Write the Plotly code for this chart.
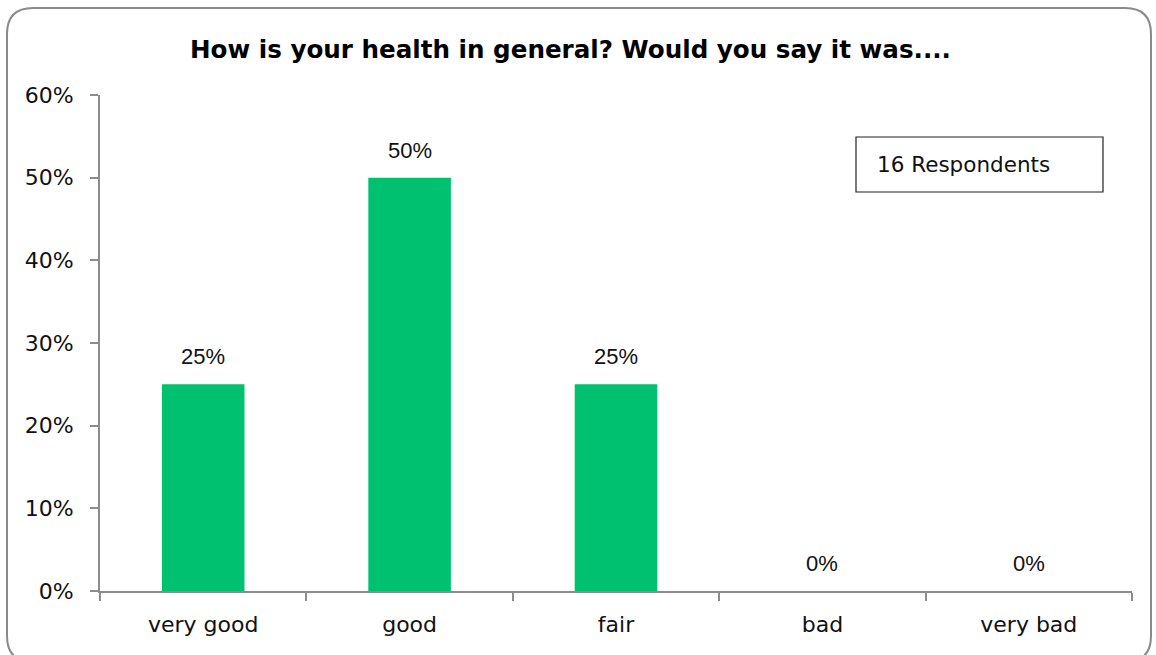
import plotly.graph_objects as go

categories = ["very good", "good", "fair", "bad", "very bad"]
shares = [0.25, 0.50, 0.25, 0.0, 0.0]
y_ticks = [0, 0.1, 0.2, 0.3, 0.4, 0.5, 0.6]
title_text = "How is your health in general? Would you say it was...."
respondents_text = "16 Respondents"

W, H = 1156, 655
L, R, T, B = 100, 24, 95, 64
PW, PH = W - L - R, H - T - B


def px(x):
    return (x - L) / PW


def py(y):
    return (H - B - y) / PH


AXIS = "#8c8c8c"
BAR = "#00c170"
TICK_FONT = dict(family="DejaVu Sans", size=22, color="#111")

fig = go.Figure(
    go.Bar(
        x=categories,
        y=shares,
        marker=dict(color=BAR, line=dict(width=0)),
        width=0.4,
        hoverinfo="skip",
    )
)

# value labels above each bar
for c, v in zip(categories, shares):
    fig.add_annotation(
        x=c, y=v, text=f"{v:.0%}", showarrow=False,
        yanchor="bottom", yshift=13,
        font=dict(family="Liberation Sans, Arial", size=22, color="#111"),
    )

# rounded outer frame
x0, x1, y0, y1 = px(7), px(1151), py(662), py(8)
rx, ry = 26 / PW, 26 / PH
frame = (
    f"M {x0 + rx} {y1} L {x1 - rx} {y1} Q {x1} {y1} {x1} {y1 - ry} "
    f"L {x1} {y0 + ry} Q {x1} {y0} {x1 - rx} {y0} "
    f"L {x0 + rx} {y0} Q {x0} {y0} {x0} {y0 + ry} "
    f"L {x0} {y1 - ry} Q {x0} {y1} {x0 + rx} {y1} Z"
)
fig.add_shape(type="path", path=frame, xref="paper", yref="paper",
              line=dict(color="#8a8a8a", width=2), layer="below")

# respondents box
fig.add_shape(type="rect", xref="paper", yref="paper",
              x0=px(856), x1=px(1103), y0=py(192), y1=py(137),
              line=dict(color="#222", width=1.2), fillcolor="white")
fig.add_annotation(xref="paper", yref="paper", x=px(875), y=py(164),
                   xanchor="left", yanchor="middle", showarrow=False,
                   text=respondents_text,
                   font=dict(family="DejaVu Sans", size=21.5, color="#111"))

fig.update_layout(
    width=W, height=H,
    margin=dict(l=L, r=R, t=T, b=B),
    paper_bgcolor="white", plot_bgcolor="white",
    showlegend=False,
    title=dict(text=f"<b>{title_text}</b>", xref="container", x=570.5 / W,
               xanchor="center", yref="container", y=1 - 49 / H, yanchor="middle",
               font=dict(family="DejaVu Sans", size=24.6, color="#000")),
    xaxis=dict(
        type="category", range=[-0.5, 4.5], tickson="boundaries",
        ticks="outside", ticklen=8, tickwidth=2, tickcolor=AXIS,
        showline=True, linecolor=AXIS, linewidth=2,
        showgrid=False, zeroline=False,
        ticklabelstandoff=13,
        tickfont=TICK_FONT,
    ),
    yaxis=dict(
        range=[0, 0.6], tickvals=y_ticks, tickformat=".0%",
        ticks="outside", ticklen=8, tickwidth=2, tickcolor=AXIS,
        showline=True, linecolor=AXIS, linewidth=2,
        showgrid=False, zeroline=False,
        ticklabelstandoff=12,
        tickfont=TICK_FONT,
    ),
)

fig.write_html("out.html")
